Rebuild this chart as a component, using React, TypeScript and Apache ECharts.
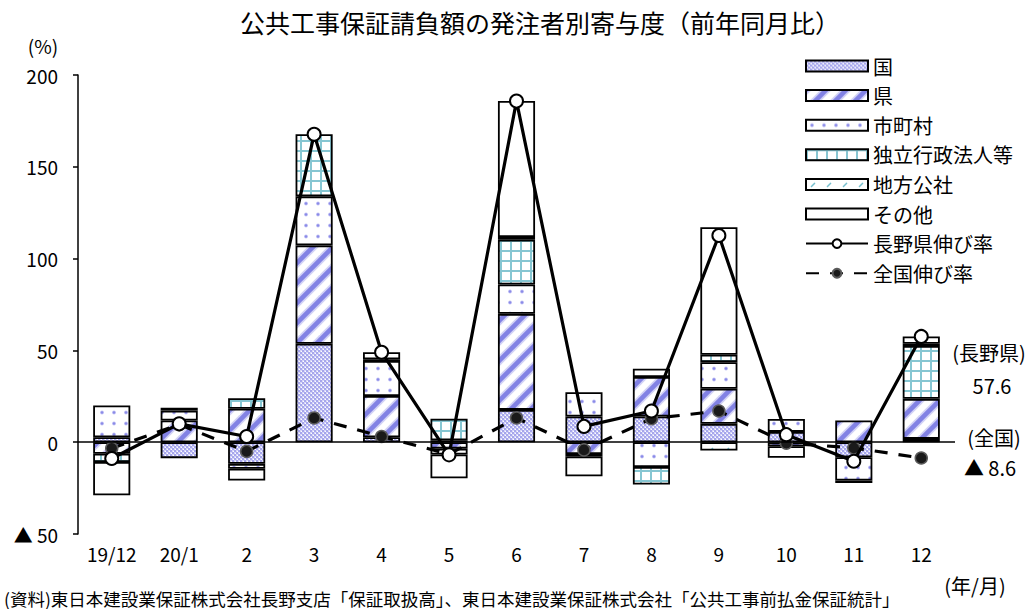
import React, { useEffect, useRef } from "react";
import * as echarts from "echarts";

// Months (year/month) on the category axis
const categories = ["19/12", "20/1", "2", "3", "4", "5", "6", "7", "8", "9", "10", "11", "12"];

// Contribution by ordering party (percentage points)
const kuni = [2.7, -8.7, -11.8, 53.6, 2.7, 1.0, 17.6, 14.0, 14.0, 10.0, 5.6, -8.2, 1.8];
const ken = [-6.3, 11.8, 18.2, 53.6, 22.5, -3.5, 52.3, -6.4, 21.5, 19.1, -2.2, 11.8, 21.8];
const shichoson = [17.3, 5.4, -2.7, 26.7, 19.0, -3.2, 16.0, 13.2, -13.5, 14.5, 7.0, -12.7, 0];
const dokuritsu = [-4.5, 0, 5.8, 33.8, 1.0, 11.8, 24.4, -1.3, -9.5, 4.0, 0, 0, 28.8];
const kosha = [0, 0, 0, 0, 0, 0, 1.4, 0, 0, -4.5, 0, 0, 1.2];
const sonota = [-18.1, 1.5, -6.4, 0, 3.8, -13.0, 74.1, -10.9, 4.5, 69.5, -6.3, -1.3, 4.0];

// Year-on-year growth rates (%)
const naganoRate = [-8.9, 10.0, 3.1, 167.7, 49.0, -6.9, 185.8, 8.6, 17.0, 112.6, 4.1, -10.4, 57.6];
const zenkokuRate = [-3.3, 9.6, -5.0, 13.2, 3.1, -6.5, 13.2, -4.2, 12.8, 17.0, -0.5, -3.1, -8.6];

// Y axis ticks
const yMin = -50;
const yMax = 200;
const yStep = 50;

const NUM_FONT = '"Liberation Sans Narrow", "Noto Sans CJK JP", sans-serif';
const JP_FONT = '"Noto Sans CJK JP", sans-serif';

function makePattern(w: number, h: number, draw: (ctx: CanvasRenderingContext2D) => void) {
  const c = document.createElement("canvas");
  c.width = w;
  c.height = h;
  const ctx = c.getContext("2d")!;
  draw(ctx);
  return { image: c, repeat: "repeat", imageWidth: w, imageHeight: h } as any;
}

function buildPatterns() {
  // fine lavender checker
  const kuniP = makePattern(4, 4, (ctx) => {
    ctx.fillStyle = "#d6d6f7";
    ctx.fillRect(0, 0, 4, 4);
    ctx.fillStyle = "#a6a6ec";
    ctx.fillRect(0, 0, 2, 2);
    ctx.fillRect(2, 2, 2, 2);
    ctx.fillStyle = "#ffffff";
    ctx.fillRect(1, 3, 1, 1);
    ctx.fillRect(3, 1, 1, 1);
  });
  // wide diagonal stripes
  const kenP = makePattern(20, 20, (ctx) => {
    ctx.fillStyle = "#ffffff";
    ctx.fillRect(0, 0, 20, 20);
    const stripe = (width: number, color: string) => {
      ctx.strokeStyle = color;
      ctx.lineWidth = width;
      for (const c of [-20, 0, 20, 40]) {
        ctx.beginPath();
        ctx.moveTo(c + 4, -4);
        ctx.lineTo(c - 24, 24);
        ctx.stroke();
      }
    };
    stripe(8, "#d2d2f6");
    stripe(4.5, "#8282e4");
  });
  // sparse dots
  const shiP = makePattern(12, 11, (ctx) => {
    ctx.fillStyle = "#ffffff";
    ctx.fillRect(0, 0, 12, 11);
    ctx.fillStyle = "#c4c4f4";
    ctx.beginPath();
    ctx.arc(6, 5.5, 2, 0, Math.PI * 2);
    ctx.fill();
    ctx.fillStyle = "#8a8ae8";
    ctx.beginPath();
    ctx.arc(6, 5.5, 1.2, 0, Math.PI * 2);
    ctx.fill();
  });
  // cyan grid
  const dokuP = makePattern(10, 10, (ctx) => {
    ctx.fillStyle = "#ffffff";
    ctx.fillRect(0, 0, 10, 10);
    ctx.fillStyle = "#86c6d2";
    ctx.fillRect(0, 0, 2, 10);
    ctx.fillRect(0, 0, 10, 2);
  });
  // small cyan dashes
  const koshaP = makePattern(16, 12, (ctx) => {
    ctx.fillStyle = "#ffffff";
    ctx.fillRect(0, 0, 16, 12);
    ctx.strokeStyle = "#6fbccb";
    ctx.lineWidth = 1.5;
    ctx.beginPath();
    ctx.moveTo(5, 8);
    ctx.lineTo(9, 4);
    ctx.stroke();
  });
  return { kuniP, kenP, shiP, dokuP, koshaP };
}

const nz = (arr: number[]) => arr.map((v) => (v === 0 ? "-" : v));

export default function App() {
  const ref = useRef<HTMLDivElement>(null);

  useEffect(() => {
    if (!ref.current) return;
    const chart = echarts.init(ref.current, null, { renderer: "svg" });
    const p = buildPatterns();

    const barBase = (name: string, data: number[], color: any) => ({
      name,
      type: "bar",
      stack: "contrib",
      data: nz(data),
      barCategoryGap: "45%",
      itemStyle: { color, borderColor: "#000", borderWidth: 1.8 },
      emphasis: { disabled: true },
    });

    const option: any = {
      animation: false,
      backgroundColor: "#ffffff",
      grid: { left: 78, right: 80, top: 75, bottom: 75 },
      legend: {
        orient: "vertical",
        left: 800,
        top: 51,
        itemWidth: 62,
        itemHeight: 11,
        itemGap: 9.6,
        textStyle: { fontFamily: JP_FONT, fontSize: 20, lineHeight: 20, color: "#000" },
        data: [
          { name: "国", icon: "rect" },
          { name: "県", icon: "rect" },
          { name: "市町村", icon: "rect" },
          { name: "独立行政法人等", icon: "rect" },
          { name: "地方公社", icon: "rect" },
          { name: "その他", icon: "rect" },
          { name: "長野県伸び率" },
          { name: "全国伸び率" },
        ],
      },
      xAxis: {
        type: "category",
        data: categories,
        axisLine: { show: false },
        axisTick: { show: false },
        axisLabel: {
          fontFamily: NUM_FONT,
          fontSize: 19,
          color: "#000",
          margin: 10,
          interval: 0,
        },
        position: "bottom",
      },
      yAxis: {
        type: "value",
        min: yMin,
        max: yMax,
        interval: yStep,
        splitLine: { show: false },
        axisLine: { show: true, lineStyle: { color: "#000", width: 1.5 } },
        axisTick: { show: true, inside: false, length: 5, lineStyle: { color: "#000", width: 1.5 } },
        axisLabel: {
          fontFamily: NUM_FONT,
          fontSize: 19,
          color: "#000",
          margin: 20,
          formatter: (v: number) => (v < 0 ? "▲ " + Math.abs(v) : String(v)),
        },
      },
      series: [
        {
          ...barBase("国", kuni, p.kuniP),
          markLine: {
            silent: true,
            symbol: ["none", "none"],
            label: { show: false },
            lineStyle: { color: "#000", width: 1.5, type: "solid" },
            data: [{ yAxis: 0 }],
          },
        },
        barBase("県", ken, p.kenP),
        barBase("市町村", shichoson, p.shiP),
        barBase("独立行政法人等", dokuritsu, p.dokuP),
        barBase("地方公社", kosha, p.koshaP),
        barBase("その他", sonota, "#ffffff"),
        {
          name: "長野県伸び率",
          type: "line",
          data: naganoRate,
          z: 5,
          symbol: "circle",
          symbolSize: 13,
          itemStyle: { color: "#ffffff", borderColor: "#000", borderWidth: 2 },
          lineStyle: { color: "#000", width: 3.2 },
          emphasis: { disabled: true },
        },
        {
          name: "全国伸び率",
          type: "line",
          data: zenkokuRate,
          z: 4,
          symbol: "circle",
          symbolSize: 12,
          itemStyle: { color: "#1a1a1a", borderColor: "#5a5a5a", borderWidth: 1.5 },
          lineStyle: { color: "#000", width: 3.2, type: [13, 11] },
          emphasis: { disabled: true },
        },
      ],
      graphic: [
        {
          type: "text",
          x: 540,
          y: 22,
          style: {
            text: "公共工事保証請負額の発注者別寄与度（前年同月比）",
            fontFamily: JP_FONT,
            fontSize: 25,
            fill: "#000",
            align: "center",
            verticalAlign: "middle",
          },
        },
        {
          type: "text",
          x: 43,
          y: 45,
          style: { text: "(%)", fontFamily: JP_FONT, fontSize: 19, fill: "#000", align: "center", verticalAlign: "middle" },
        },
        {
          type: "text",
          x: 989,
          y: 352,
          style: { text: "(長野県)", fontFamily: JP_FONT, fontSize: 20, fill: "#000", align: "center", verticalAlign: "middle" },
        },
        {
          type: "text",
          x: 992,
          y: 385,
          style: { text: String(naganoRate[naganoRate.length - 1]), fontFamily: NUM_FONT, fontSize: 20, fill: "#000", align: "center", verticalAlign: "middle" },
        },
        {
          type: "text",
          x: 994,
          y: 437,
          style: { text: "(全国)", fontFamily: JP_FONT, fontSize: 20, fill: "#000", align: "center", verticalAlign: "middle" },
        },
        {
          type: "text",
          x: 990,
          y: 467,
          style: {
            text: "▲ " + Math.abs(zenkokuRate[zenkokuRate.length - 1]),
            fontFamily: NUM_FONT,
            fontSize: 20,
            fill: "#000",
            align: "center",
            verticalAlign: "middle",
          },
        },
        {
          type: "text",
          x: 975,
          y: 585,
          style: { text: "(年/月)", fontFamily: JP_FONT, fontSize: 20, fill: "#000", align: "center", verticalAlign: "middle" },
        },
        {
          type: "text",
          x: 4,
          y: 598,
          style: {
            text: "(資料)東日本建設業保証株式会社長野支店「保証取扱高」、東日本建設業保証株式会社「公共工事前払金保証統計」",
            fontFamily: JP_FONT,
            fontSize: 17.5,
            fill: "#000",
            align: "left",
            verticalAlign: "middle",
          },
        },
      ],
    };

    chart.setOption(option);
    return () => chart.dispose();
  }, []);

  return (
    <div
      ref={ref}
      style={{ position: "fixed", left: 0, top: 0, width: 1035, height: 609, background: "#fff" }}
    />
  );
}
